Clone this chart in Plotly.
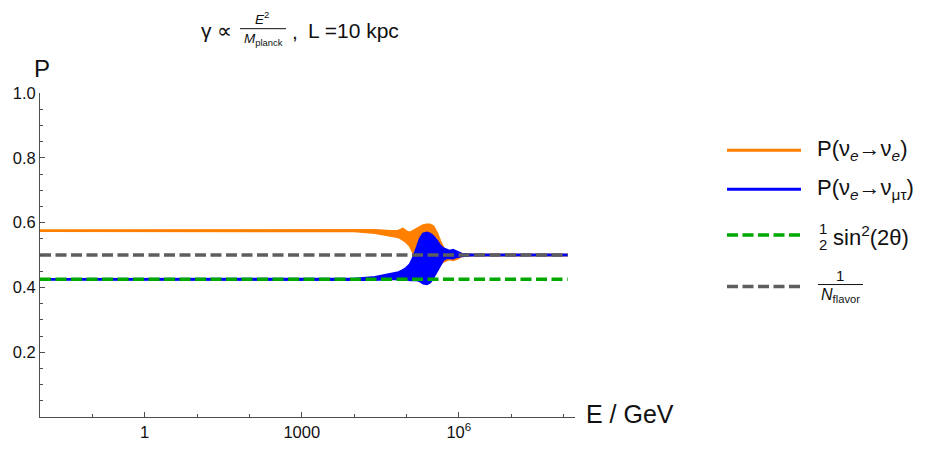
import plotly.graph_objects as go

# ---- data ----
log10_energy = [-2.0, 3.5, 4.0, 4.4, 4.7, 4.85, 4.93, 5.0, 5.07, 5.13, 5.2, 5.26, 5.32,
                5.39, 5.45, 5.51, 5.58, 5.64, 5.70, 5.77, 5.83, 5.89, 5.97, 6.05, 6.3, 8.08]
p_ee_upper = [0.575, 0.575, 0.576, 0.576, 0.573, 0.574, 0.580, 0.572, 0.568, 0.574, 0.579, 0.586, 0.591,
              0.593, 0.593, 0.588, 0.568, 0.543, 0.522, 0.512, 0.510, 0.513, 0.508, 0.503, 0.5, 0.5]
p_ee_lower = [0.575, 0.575, 0.574, 0.569, 0.560, 0.556, 0.548, 0.540, 0.528, 0.508, 0.478, 0.450, 0.435,
              0.432, 0.435, 0.443, 0.456, 0.471, 0.480, 0.485, 0.488, 0.485, 0.489, 0.497, 0.5, 0.5]
p_emt_upper = [0.425, 0.425, 0.426, 0.431, 0.440, 0.446, 0.452, 0.460, 0.471, 0.491, 0.522, 0.550, 0.565,
               0.568, 0.565, 0.557, 0.544, 0.529, 0.520, 0.515, 0.512, 0.515, 0.510, 0.503, 0.5, 0.5]
p_emt_lower = [0.425, 0.425, 0.424, 0.424, 0.427, 0.427, 0.426, 0.425, 0.423, 0.424, 0.423, 0.420, 0.413,
               0.411, 0.416, 0.430, 0.451, 0.471, 0.485, 0.492, 0.490, 0.490, 0.495, 0.497, 0.5, 0.5]
half_sin2_2theta = 0.425
one_over_nflavor = 0.5
x_tick_vals = [1, 1000, 1e6]
x_tick_text = ["1", "1000", "10<sup>6</sup>"]
y_tick_vals = [0.2, 0.4, 0.6, 0.8, 1.0]
y_tick_text = ["0.2", "0.4", "0.6", "0.8", "1.0"]

energy = [10 ** v for v in log10_energy]
e_span = [energy[0], energy[-1]]

ORANGE = "#ff8000"
BLUE = "#0000ff"
GREEN = "#00a800"
GREY = "#5e5e5e"
AX = "#4d4d4d"
FONT = "Liberation Sans"

fig = go.Figure()
fig.add_trace(go.Scatter(x=energy, y=p_ee_upper, mode="lines",
                         line=dict(color=ORANGE, width=2.6), showlegend=False))
fig.add_trace(go.Scatter(x=energy, y=p_ee_lower, mode="lines", fill="tonexty", fillcolor=ORANGE,
                         line=dict(color=ORANGE, width=2.6), showlegend=False))
fig.add_trace(go.Scatter(x=energy, y=p_emt_upper, mode="lines",
                         line=dict(color=BLUE, width=2.6), showlegend=False))
fig.add_trace(go.Scatter(x=energy, y=p_emt_lower, mode="lines", fill="tonexty", fillcolor=BLUE,
                         line=dict(color=BLUE, width=2.6), showlegend=False))
fig.add_trace(go.Scatter(x=e_span, y=[half_sin2_2theta] * 2, mode="lines",
                         line=dict(color=GREEN, width=3.4, dash="11px,4.5px"), showlegend=False))
fig.add_trace(go.Scatter(x=e_span, y=[one_over_nflavor] * 2, mode="lines",
                         line=dict(color=GREY, width=3.4, dash="11px,4.5px"), showlegend=False))

L, R, T, B = 40, 575, 93, 433
W, H = 930, 453


def px(x):
    return (x - L) / (R - L)


def py(y):
    return (B - y) / (B - T)


fig.update_layout(
    width=W, height=H, autosize=False,
    margin=dict(l=L, r=W - R, t=T, b=H - B, pad=0),
    paper_bgcolor="white", plot_bgcolor="white",
    font=dict(family=FONT, color="#111111"),
    xaxis=dict(type="log", range=[-2, 8.22], showline=True, linecolor=AX, linewidth=1,
               ticks="inside", ticklen=5, tickwidth=1, tickcolor=AX,
               tickvals=x_tick_vals, ticktext=x_tick_text, tickfont=dict(size=16.5, color="#111111"),
               minor=dict(tickvals=[10 ** k for k in range(-1, 9)], ticks="inside",
                          ticklen=3, tickcolor=AX, tickwidth=1),
               showgrid=False, zeroline=False),
    yaxis=dict(range=[0, 1.0], showline=True, linecolor=AX, linewidth=1,
               ticks="inside", ticklen=5, tickwidth=1, tickcolor=AX,
               tickvals=y_tick_vals, ticktext=y_tick_text, tickfont=dict(size=16.5, color="#111111"),
               minor=dict(tickvals=[k * 0.05 for k in range(1, 20)], ticks="inside",
                          ticklen=3, tickcolor=AX, tickwidth=1),
               showgrid=False, zeroline=False),
)

ann = []


def note(text, x, y, size, xanchor="left", yanchor="middle"):
    ann.append(dict(text=text, x=px(x), y=py(y), xref="paper", yref="paper",
                    xanchor=xanchor, yanchor=yanchor, showarrow=False,
                    font=dict(size=size, family=FONT, color="#111111")))


shapes = []


def hline(x0, x1, y, color, width, dash=None):
    d = dict(type="line", xref="paper", yref="paper", x0=px(x0), x1=px(x1), y0=py(y), y1=py(y),
             line=dict(color=color, width=width))
    if dash:
        d["line"]["dash"] = dash
    shapes.append(d)


# axis labels
note("P", 42, 67, 24, xanchor="center")
note("E / GeV", 584, 430, 25)

# title
note("γ ∝", 199, 27, 21)
note("<i>E</i><sup>2</sup>", 262, 14, 13.5, xanchor="center")
hline(240, 286, 25.5, "#111111", 1)
note("<i>M</i><sub>planck</sub>", 263, 37, 13.5, xanchor="center")
note(",", 290, 28, 21)
note("L =10 kpc", 306, 27, 21)

# legend
hline(727, 801, 153, ORANGE, 3)
hline(727, 801, 194, BLUE, 3)
hline(727, 801, 242, GREEN, 3.4, "11px,4.5px")
hline(727, 801, 296, GREY, 3.4, "11px,4.5px")
note("P(ν<sub><i>e</i></sub>→ν<sub><i>e</i></sub>)", 815, 153, 22)
note("P(ν<sub><i>e</i></sub>→ν<sub>μτ</sub>)", 815, 194, 22)
note("1", 823, 235, 15, xanchor="center")
note("2", 823, 252, 15, xanchor="center")
note("sin<sup>2</sup>(2θ)", 831, 243, 22)
note("1", 840, 284, 15, xanchor="center")
hline(818, 863, 294, "#111111", 1)
note("<i>N</i><sub>flavor</sub>", 840, 306, 16, xanchor="center")

fig.update_layout(annotations=ann, shapes=shapes)
fig.write_html("out.html")
